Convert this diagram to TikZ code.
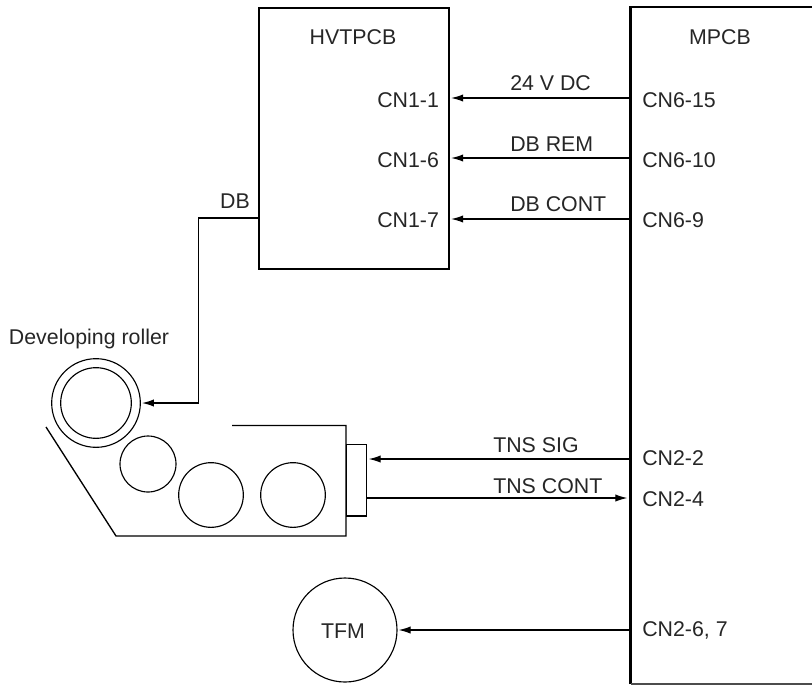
\documentclass[tikz,border=0pt]{standalone}
\usepackage{fontspec}
\setmainfont{Liberation Sans}
\usetikzlibrary{arrows.meta}
\tikzset{
  x=0.75pt,y=-0.75pt,
  board/.style={draw,line width=1.8pt},
  wire/.style={line width=0.95pt,-{Latex[length=9pt,width=5.5pt]},shorten >=2pt},
  near/.style={shorten >=0.8pt},
  plain/.style={line width=1pt},
  round/.style={draw,circle,line width=0.85pt,inner sep=0pt},
  lbl/.style={font=\fontsize{16pt}{18pt}\selectfont,text=black!85,inner sep=0pt},
  lw/.style={lbl,anchor=west},
}
\begin{document}
\begin{tikzpicture}
\useasboundingbox (0,0) rectangle (812,685);
% boards
\node[board,minimum width=142.5pt,minimum height=195.75pt,anchor=north west,inner sep=0pt] (hv) at (258,7) {};
\draw[board] (630.5,684) -- (630.5,7) -- (821,7);
\draw[line width=0.8pt,black!70] (630.5,684) -- (821,684);
\node[lbl] (hvt) at (353,37) {HVTPCB};
\node[lbl] (mpt) at (720,37) {MPCB};
% connector labels
\node[lw] (a1) at (377,100) {CN1-1};
\node[lw] (a6) at (377,160) {CN1-6};
\node[lw] (a7) at (377,220) {CN1-7};
\node[lw] (b1) at (642,100) {CN6-15};
\node[lw] (b2) at (642,160) {CN6-10};
\node[lw] (b3) at (642,220) {CN6-9};
\node[lw] (b4) at (642,458) {CN2-2};
\node[lw] (b5) at (642,499) {CN2-4};
\node[lw] (b6) at (642,630) {CN2-6, 7};
% signal labels
\node[lw] (s24) at (510,83) {24 V DC};
\node[lw] (srem) at (510,144) {DB REM};
\node[lw] (scont) at (510,204) {DB CONT};
\node[lw] (ssig) at (493,445) {TNS SIG};
\node[lw] (stns) at (493,486) {TNS CONT};
\coordinate (m1) at (630,98);
\coordinate (m2) at (630,158);
\coordinate (m3) at (630,219);
\coordinate (h1) at (448.5,98);
\coordinate (h2) at (448.5,158);
\coordinate (h3) at (448.5,219);
\draw[wire] (m1) -- (h1);
\draw[wire] (m2) -- (h2);
\draw[wire] (m3) -- (h3);
% developing unit
\node[round,minimum size=66.5pt] (ro) at (96,403) {};
\node[round,minimum size=53pt] (ri) at (96,403) {};
\node[round,minimum size=42pt] (c1) at (148,464) {};
\node[round,minimum size=48.5pt] (c2) at (211,495) {};
\node[round,minimum size=48.5pt] (c3) at (293,495) {};
\node[lbl] (dr) at (89,339) {Developing roller};
\node[lbl] (db) at (235,201) {DB};
\coordinate (u1) at (46,427);
\coordinate (u2) at (116,536);
\coordinate (u3) at (346,536);
\coordinate (u4) at (346,425.5);
\coordinate (u5) at (232,425.5);
\draw[plain] (u1) -- (u2) -- (u3) -- (u4) -- (u5);
\node[draw,line width=1pt,minimum width=15pt,minimum height=53.5pt,inner sep=0pt,anchor=north west] (sn) at (346,444) {};
\coordinate (hl) at (258,218);
\coordinate (k1) at (198.5,218);
\coordinate (k2) at (198.5,403);
\draw[wire,near] (hl) -- (k1) -- (k2) -- (ro.east);
\coordinate (s1) at (366,459);
\coordinate (s2) at (366,498);
\coordinate (m4) at (630,459);
\coordinate (m5) at (630,498);
\draw[wire] (m4) -- (s1);
\draw[wire] (s2) -- (m5);
\node[round,minimum size=78pt] (tfm) at (345,630) {};
\node[lbl] (tt) at (343,631) {TFM};
\coordinate (m6) at (630,630);
\draw[wire,near] (m6) -- (tfm.east);
\end{tikzpicture}
\end{document}
